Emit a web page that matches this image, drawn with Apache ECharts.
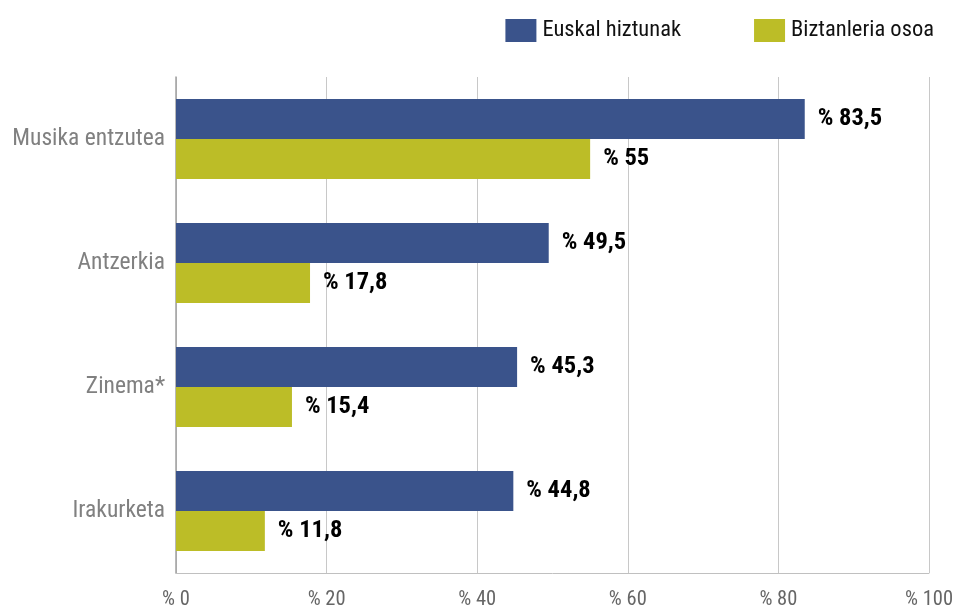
<!DOCTYPE html>
<html><head><meta charset="utf-8">
<script src="https://cdn.jsdelivr.net/npm/echarts@6/dist/echarts.min.js"></script>
<style>html,body{margin:0;padding:0;background:#fff}#c{width:956px;height:610px}</style>
</head><body><div id="c"></div>
<script>
const categories = ['Musika entzutea', 'Antzerkia', 'Zinema*', 'Irakurketa'];
const seriesNames = ['Euskal hiztunak', 'Biztanleria osoa'];
const euskalHiztunak = [83.5, 49.5, 45.3, 44.8];
const biztanleriaOsoa = [55, 17.8, 15.4, 11.8];
const xTicks = [0, 20, 40, 60, 80, 100];

const FONT = '"Roboto Condensed", Roboto, sans-serif';
const fmt = v => '% ' + String(v).replace('.', ',');
const chart = echarts.init(document.getElementById('c'));
chart.setOption({
  animation: false,
  textStyle: { fontFamily: FONT },
  legend: {
    top: 14, right: 17, itemWidth: 31, itemHeight: 23, itemGap: 73,
    textStyle: { fontFamily: FONT, fontSize: 22.5, color: '#111', padding: [0, 0, 0, 1] },
    icon: 'rect',
    data: seriesNames
  },
  grid: { left: 176, right: 19, top: 77, bottom: 37, containLabel: false },
  xAxis: {
    type: 'value', min: xTicks[0], max: xTicks[xTicks.length - 1], interval: 20,
    axisLine: { show: true, lineStyle: { color: '#c0c0c0', width: 1 } },
    axisTick: { show: false },
    splitLine: { show: true, lineStyle: { color: '#c8c8c8', width: 1 } },
    axisLabel: { formatter: v => '% ' + v, color: '#666', fontSize: 20.5, margin: 16, fontFamily: FONT }
  },
  yAxis: {
    type: 'category', data: categories, inverse: true,
    axisLine: { show: true, lineStyle: { color: '#a0a0a0', width: 1.5 } },
    axisTick: { show: false },
    axisLabel: { color: '#808080', fontSize: 23.5, margin: 11, fontFamily: FONT }
  },
  series: [
    {
      name: seriesNames[0], type: 'bar', data: euskalHiztunak, barWidth: 40, barGap: '0%',
      itemStyle: { color: '#3a538b' },
      label: { show: true, position: 'right', distance: 13, formatter: p => fmt(p.value),
        color: '#000', fontWeight: 'bold', fontSize: 24.5, fontFamily: FONT }
    },
    {
      name: seriesNames[1], type: 'bar', data: biztanleriaOsoa, barWidth: 40, barGap: '0%',
      itemStyle: { color: '#bcbd27' },
      label: { show: true, position: 'right', distance: 13, formatter: p => fmt(p.value),
        color: '#000', fontWeight: 'bold', fontSize: 24.5, fontFamily: FONT }
    }
  ]
});
</script></body></html>
